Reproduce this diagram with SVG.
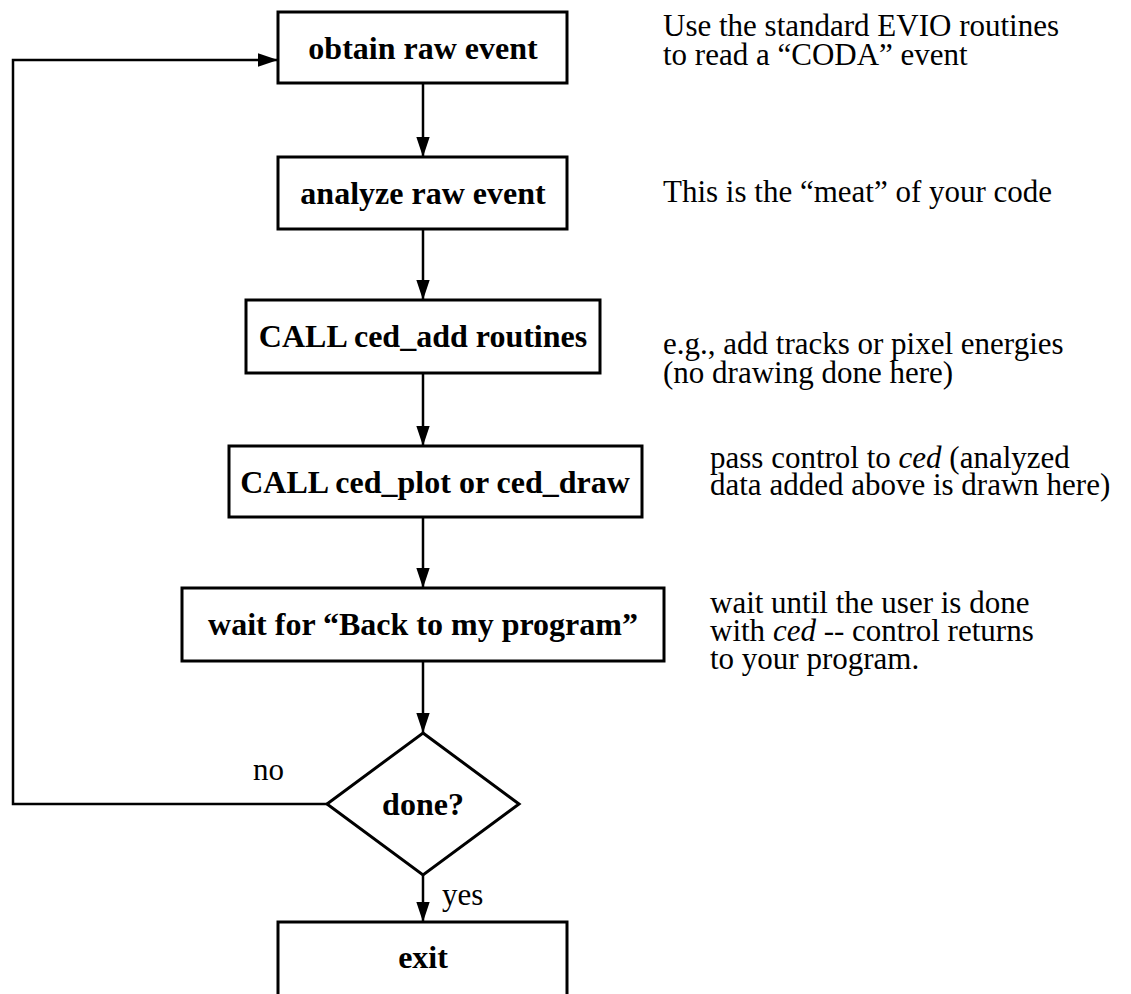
<svg xmlns="http://www.w3.org/2000/svg" width="1131" height="994" viewBox="0 0 1131 994">
<defs>
<marker id="ah" markerWidth="20" markerHeight="30" refX="30" refY="10" orient="auto" markerUnits="userSpaceOnUse" viewBox="0 0 30 20">
<path d="M0,0 L30,10 L0,20 Z" fill="#000"/>
</marker>
<style>
.box{fill:#fff;stroke:#000;stroke-width:3}
.lbl{font-family:"Liberation Serif","Times New Roman",serif;font-weight:bold;font-size:32px;text-anchor:middle;fill:#000}
.note{font-family:"Liberation Serif","Times New Roman",serif;font-size:31px;fill:#000}
.edge{fill:none;stroke:#000;stroke-width:2.5}
</style>
</defs>
<rect width="1131" height="994" fill="#fff"/>
<g id="connectors">
<path class="edge" d="M423,83 L423,157" marker-end="url(#ah)"/>
<path class="edge" d="M423,229 L423,300" marker-end="url(#ah)"/>
<path class="edge" d="M423,373 L423,446" marker-end="url(#ah)"/>
<path class="edge" d="M423,517 L423,588" marker-end="url(#ah)"/>
<path class="edge" d="M423,661 L423,733" marker-end="url(#ah)"/>
<path class="edge" d="M423,875 L423,922" marker-end="url(#ah)"/>
<path class="edge" d="M327,804 L13,804 L13,60 L278,60" marker-end="url(#ah)"/>
<text class="note" x="253" y="780">no</text>
<text class="note" x="442" y="905">yes</text>
</g>
<g id="obtain">
<rect class="box" x="278" y="12" width="289" height="71"/>
<text class="lbl" x="423" y="59">obtain raw event</text>
</g>
<g id="analyze">
<rect class="box" x="278" y="157" width="289" height="72"/>
<text class="lbl" x="423" y="204">analyze raw event</text>
</g>
<g id="add">
<rect class="box" x="246" y="300" width="354" height="73"/>
<text class="lbl" x="423" y="347">CALL ced_add routines</text>
</g>
<g id="plot">
<rect class="box" x="229" y="446" width="413" height="71"/>
<text class="lbl" x="435" y="493">CALL ced_plot or ced_draw</text>
</g>
<g id="wait">
<rect class="box" x="182" y="588" width="482" height="73"/>
<text class="lbl" x="423" y="635">wait for “Back to my program”</text>
</g>
<g id="done">
<polygon class="box" points="423,733 519,804 423,875 327,804"/>
<text class="lbl" x="423" y="815">done?</text>
</g>
<g id="exit">
<path class="box" d="M278,996 L278,922 L567,922 L567,996"/>
<text class="lbl" x="423" y="968">exit</text>
</g>
<g id="notes">
<text class="note" x="663" y="36">Use the standard EVIO routines</text>
<text class="note" x="663" y="65">to read a “CODA” event</text>
<text class="note" x="663" y="202">This is the “meat” of your code</text>
<text class="note" x="663" y="354">e.g., add tracks or pixel energies</text>
<text class="note" x="663" y="383">(no drawing done here)</text>
<text class="note" x="710" y="468">pass control to <tspan font-style="italic">ced</tspan> (analyzed</text>
<text class="note" x="710" y="495">data added above is drawn here)</text>
<text class="note" x="710" y="613">wait until the user is done</text>
<text class="note" x="710" y="641">with <tspan font-style="italic">ced</tspan> -- control returns</text>
<text class="note" x="710" y="669">to your program.</text>
</g>
</svg>
